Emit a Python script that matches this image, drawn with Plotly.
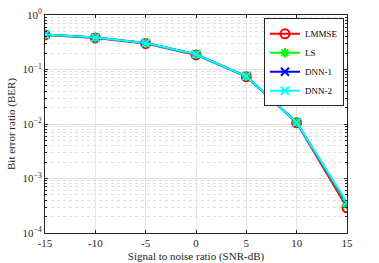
import plotly.graph_objects as go

snr = [-15, -10, -5, 0, 5, 10, 15]
ber_lmmse = [0.43, 0.38, 0.30, 0.185, 0.074, 0.0105, 0.00029]
ber_ls = [0.44, 0.385, 0.305, 0.19, 0.075, 0.0108, 0.00033]
ber_dnn1 = [0.44, 0.385, 0.305, 0.19, 0.075, 0.0107, 0.00035]
ber_dnn2 = [0.44, 0.385, 0.305, 0.19, 0.075, 0.0107, 0.00036]

series = [
    ("LMMSE", ber_lmmse, "#ff0000", "circle-open", 9),
    ("LS", ber_ls, "#00ff00", "asterisk-open", 8),
    ("DNN-1", ber_dnn1, "#0000ff", "x-thin-open", 8),
    ("DNN-2", ber_dnn2, "#00ffff", "x-thin-open", 8),
]

x_ticks = [-15, -10, -5, 0, 5, 10, 15]
y_tickvals = [1e-4, 1e-3, 1e-2, 1e-1, 1]
y_ticktext = ["10<sup>−4</sup>", "10<sup>−3</sup>", "10<sup>−2</sup>", "10<sup>−1</sup>", "10<sup>0</sup>"]
minor_vals = [m * 10 ** e for e in range(-4, 0) for m in range(2, 10)]

fig = go.Figure()
for name, ys, col, sym, sz in series:
    fig.add_trace(go.Scatter(
        x=snr, y=ys, name=name, mode="lines+markers",
        line=dict(color=col, width=2),
        marker=dict(symbol=sym, size=sz, color=col, line=dict(color=col, width=2)),
    ))

font = "Liberation Serif, DejaVu Serif, serif"
fig.update_layout(
    width=379, height=263,
    margin=dict(l=45, r=32, t=15, b=30, autoexpand=False),
    paper_bgcolor="white", plot_bgcolor="white",
    font=dict(family=font, size=11, color="#262626"),
    showlegend=True,
    legend=dict(x=0.99, y=0.985, xanchor="right", yanchor="top",
                bgcolor="white", bordercolor="#262626", borderwidth=1,
                font=dict(family=font, size=9, color="#000000"),
                tracegroupgap=0, itemwidth=30),
)
fig.update_xaxes(
    range=[-15, 15], tickvals=x_ticks, ticktext=[str(v) for v in x_ticks],
    showline=True, linecolor="#262626", linewidth=1, mirror="allticks",
    ticks="inside", ticklen=3, tickcolor="#262626", automargin=False,
    showgrid=True, gridcolor="#e6e6e6", gridwidth=1, zeroline=False,
    title=dict(text="Signal to noise ratio (SNR-dB)", font=dict(family=font, size=11, color="#262626"), standoff=4),
)
fig.update_yaxes(
    type="log", range=[-4, 0], tickvals=y_tickvals, ticktext=y_ticktext,
    showline=True, linecolor="#262626", linewidth=1, mirror="allticks",
    ticks="inside", ticklen=3, tickcolor="#262626", automargin=False,
    showgrid=True, gridcolor="#e6e6e6", gridwidth=1, zeroline=False,
    minor=dict(tickmode="array", tickvals=minor_vals, ticks="inside", ticklen=2,
               tickcolor="#262626", showgrid=True,
               gridcolor="#e0e0e0", griddash="dot", gridwidth=1),
    title=dict(text="Bit error ratio (BER)", font=dict(family=font, size=11, color="#262626"), standoff=4),
)

fig.write_html(
    "out.html",
    config={"displayModeBar": False},
    post_script="document.body.style.margin='0';document.body.style.overflow='hidden';",
)
